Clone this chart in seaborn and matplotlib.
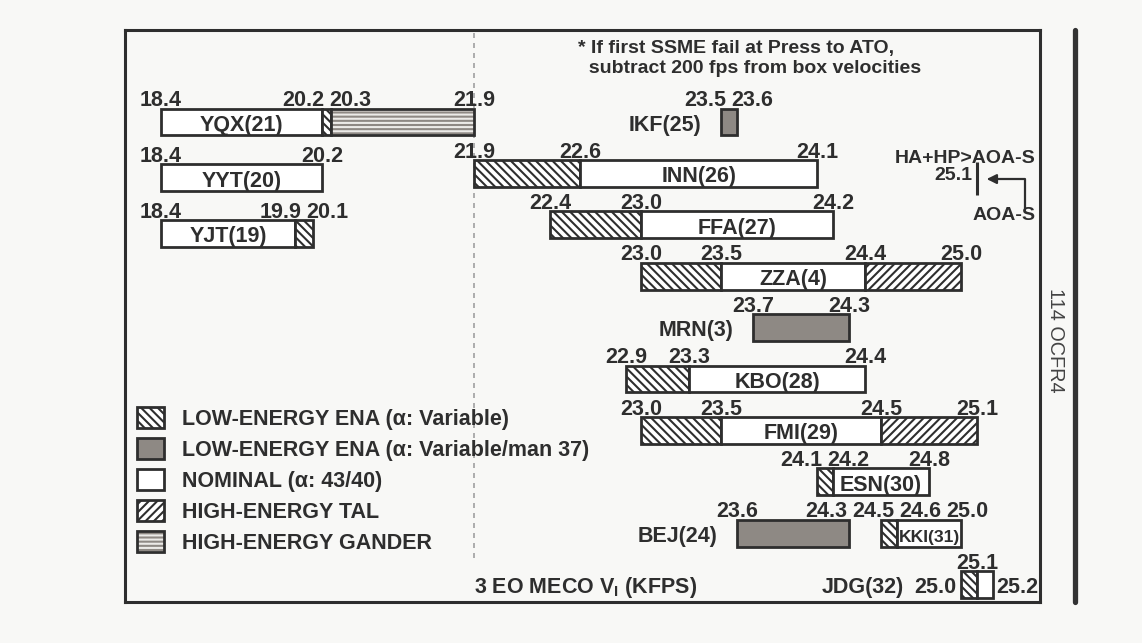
import numpy as np
import matplotlib.pyplot as plt
import seaborn as sns
from matplotlib.patches import Patch

# Values (3 EO MECO inertial velocity, KFPS)
names = ['YQX(21)', 'YYT(20)', 'YJT(19)', 'IKF(25)', 'INN(26)', 'FFA(27)',
         'ZZA(4)', 'MRN(3)', 'KBO(28)', 'FMI(29)', 'ESN(30)', 'BEJ(24)',
         'KKI(31)', 'JDG(32)']
bounds = [
    [18.4, 20.2, 20.3, 21.9],
    [18.4, 20.2],
    [18.4, 19.9, 20.1],
    [23.5, 23.6],
    [21.9, 22.6, 24.1],
    [22.4, 23.0, 24.2],
    [23.0, 23.5, 24.4, 25.0],
    [23.7, 24.3],
    [22.9, 23.3, 24.4],
    [23.0, 23.5, 24.5, 25.1],
    [24.1, 24.2, 24.8],
    [23.6, 24.3],
    [24.5, 24.6, 25.0],
    [25.0, 25.1, 25.2],
]
kinds = [
    ['nom', 'low', 'gander'],
    ['nom'],
    ['nom', 'low'],
    ['man'],
    ['low', 'nom'],
    ['low', 'nom'],
    ['low', 'nom', 'tal'],
    ['man'],
    ['low', 'nom'],
    ['low', 'nom', 'tal'],
    ['low', 'nom'],
    ['man'],
    ['low', 'nom'],
    ['low', 'nom'],
]
slots = [0, 1, 2, 0, 1, 2, 3, 4, 5, 6, 7, 8, 8, 9]

legend_kinds = ['low', 'man', 'nom', 'tal', 'gander']
legend_labels = ['LOW-ENERGY ENA (α: Variable)',
                 'LOW-ENERGY ENA (α: Variable/man 37)',
                 'NOMINAL (α: 43/40)',
                 'HIGH-ENERGY TAL',
                 'HIGH-ENERGY GANDER']

split_value = 21.9   # dashed divider
aoa_value = 25.1     # HA+HP>AOA-S marker
side_label_bars = ['JDG(32)']

# Layout / style
W, H = 1142, 643
BOX = (125, 30, 1040, 602)  # left, top, right, bottom in px
BG = '#f8f8f6'
INK = '#2e2e2e'
GRAY = '#8e8984'
FS = 15.5
ROW0, ROW_PX = 122, 51.4
LEFT_STEP = 1.085
BAR_H = 0.52
MIN_SEP = 47

# the sketch squeezes the low-velocity side: piecewise linear x scale
brk_v = [17.0, 18.4, 21.9, 23.0, 25.2, 26.0]
brk_u = [35.8, 161.0, 474.0, 641.0, 993.0, 1121.0]


def fwd(v):
    return np.interp(v, brk_v, brk_u)


def inv(u):
    return np.interp(u, brk_u, brk_v)


styles = {
    'low': dict(facecolor='white', hatch='\\\\\\\\'),
    'man': dict(facecolor=GRAY, hatch=None),
    'nom': dict(facecolor='white', hatch=None),
    'tal': dict(facecolor='white', hatch='////'),
}

sns.set_theme(style='white')
plt.rcParams['font.family'] = ['Liberation Sans', 'DejaVu Sans']
plt.rcParams['font.weight'] = 'bold'
plt.rcParams['mathtext.fontset'] = 'custom'
plt.rcParams['mathtext.bf'] = 'Liberation Sans:bold'
plt.rcParams['mathtext.rm'] = 'Liberation Sans:bold'
plt.rcParams['hatch.linewidth'] = 1.5
plt.rcParams['text.color'] = INK

fig = plt.figure(figsize=(W / 100, H / 100), dpi=100, facecolor=BG)
ax = fig.add_axes([BOX[0] / W, 1 - BOX[3] / H,
                   (BOX[2] - BOX[0]) / W, (BOX[3] - BOX[1]) / H])
ax.set_facecolor(BG)
ax.set_xscale('function', functions=(fwd, inv))
ax.set_xlim(inv(BOX[0]), inv(BOX[2]))
ax.set_ylim((BOX[3] - ROW0) / ROW_PX, (BOX[1] - ROW0) / ROW_PX)
ax.set_xticks([])
ax.set_yticks([])
for s in ax.spines.values():
    s.set_visible(True)
    s.set_color(INK)
    s.set_linewidth(2.2)


def ypos(i):
    if bounds[i][-1] <= split_value:
        return slots[i] * LEFT_STEP
    return slots[i]


def draw_segment(y, a, b, kind):
    if kind == 'gander':
        ax.barh(y, b - a, left=a, height=BAR_H, facecolor=GRAY,
                edgecolor='#ecebe8', hatch='----', linewidth=0, zorder=2)
        ax.barh(y, b - a, left=a, height=BAR_H, facecolor='none',
                edgecolor=INK, linewidth=2.0, zorder=3)
    else:
        st = styles[kind]
        ax.barh(y, b - a, left=a, height=BAR_H, facecolor=st['facecolor'],
                hatch=st['hatch'], edgecolor=INK, linewidth=2.0, zorder=2)


def spread(us, sep):
    us = list(us)
    for _ in range(200):
        for k in range(len(us) - 1):
            gap = us[k + 1] - us[k]
            if gap < sep:
                d = (sep - gap) / 2
                us[k] -= d
                us[k + 1] += d
    return us


# dashed divider
ax.axvline(split_value, ymin=(BOX[3] - 558) / (BOX[3] - BOX[1]), ymax=1,
           color='#a0a0a0', lw=1.2, ls=(0, (3, 3)), zorder=0)

# bars
for i in range(len(names)):
    b = bounds[i]
    for j, kind in enumerate(kinds[i]):
        draw_segment(ypos(i), b[j], b[j + 1], kind)

fig.canvas.draw()
renderer = fig.canvas.get_renderer()

# velocity labels above the bars, pushed apart where they crowd
row_vals = {}
for i, name in enumerate(names):
    if name in side_label_bars:
        continue
    row_vals.setdefault(round(ypos(i), 3), []).extend(bounds[i])
for y, vals in row_vals.items():
    vals = sorted(vals)
    for v, u in zip(vals, spread(fwd(np.array(vals)), MIN_SEP)):
        ax.annotate(f'{v:.1f}', xy=(inv(u), y - BAR_H / 2), xytext=(0, 1.8),
                    textcoords='offset points', ha='center', va='baseline',
                    fontsize=FS)

# side-labelled bar (JDG)
for i, name in enumerate(names):
    if name not in side_label_bars:
        continue
    y, b = ypos(i), bounds[i]
    t0 = ax.annotate(f'{b[0]:.1f}', xy=(b[0], y), xytext=(-3, -6.3),
                     textcoords='offset points', ha='right', va='baseline',
                     fontsize=FS)
    ax.annotate(f'{b[-1]:.1f}', xy=(b[-1], y), xytext=(2, -6.3),
                textcoords='offset points', ha='left', va='baseline',
                fontsize=FS)
    for v in b[1:-1]:
        ax.annotate(f'{v:.1f}', xy=(v, y - BAR_H / 2), xytext=(0, 1.8),
                    textcoords='offset points', ha='center', va='baseline',
                    fontsize=FS)
    w0 = t0.get_window_extent(renderer).width * 0.72
    ax.annotate(name, xy=(b[0], y), xytext=(-3 - w0 - 8, -6.3),
                textcoords='offset points', ha='right', va='baseline',
                fontsize=FS)

# site names: inside the nominal box, or left of the bar
for i, name in enumerate(names):
    if name in side_label_bars:
        continue
    y, b, k = ypos(i), bounds[i], kinds[i]
    if 'nom' in k:
        j = k.index('nom')
        u0, u1 = fwd(b[j]), fwd(b[j + 1])
        t = ax.annotate(name, xy=(inv((u0 + u1) / 2), y), xytext=(0, -6.3),
                        textcoords='offset points', ha='center',
                        va='baseline', fontsize=FS, zorder=4)
        tw = t.get_window_extent(renderer).width
        if tw > (u1 - u0) - 3:
            t.set_fontsize(FS * ((u1 - u0) - 3) / tw)
    else:
        ax.annotate(name, xy=(b[0], y), xytext=(-14, -6.3),
                    textcoords='offset points', ha='right', va='baseline',
                    fontsize=FS)

# HA+HP>AOA-S marker
ym = 1
ax.plot([aoa_value, aoa_value], [ym - 0.22, ym + 0.42], color=INK, lw=2.2,
        solid_capstyle='butt', zorder=3)
ax.annotate('25.1', xy=(aoa_value, ym), xytext=(-3, -4.8),
            textcoords='offset points', ha='right', va='baseline', fontsize=14)
ax.annotate('HA+HP>AOA-S', xy=(aoa_value, ym), xytext=(42, 7.5),
            textcoords='offset points', ha='right', va='baseline', fontsize=14)
ax.annotate('', xy=(aoa_value, ym + 0.11), xytext=(34.5, -20.5),
            textcoords='offset points',
            arrowprops=dict(arrowstyle='-|>', color=INK, lw=1.6,
                            connectionstyle='angle,angleA=90,angleB=0,rad=0',
                            shrinkA=0, shrinkB=7, mutation_scale=14))
ax.annotate('AOA-S', xy=(aoa_value, ym), xytext=(42, -33.5),
            textcoords='offset points', ha='right', va='baseline', fontsize=14)

# notes
ax.text((578 - BOX[0]) / (BOX[2] - BOX[0]), (BOX[3] - 40) / (BOX[3] - BOX[1]),
        '* If first SSME fail at Press to ATO,\n  subtract 200 fps from box velocities',
        transform=ax.transAxes, ha='left', va='top', fontsize=14,
        linespacing=1.2)
ax.annotate('3 EO MECO V$_\\mathbf{I}$ (KFPS)', xy=(split_value, 9),
            xytext=(0, -6.3), textcoords='offset points', ha='left',
            va='baseline', fontsize=FS)

# legend
handles = []
for k in legend_kinds:
    if k == 'gander':
        handles.append((Patch(facecolor=GRAY, edgecolor='#ecebe8', hatch='----', lw=0),
                        Patch(facecolor='none', edgecolor=INK, lw=2.0)))
    else:
        handles.append(Patch(facecolor=styles[k]['facecolor'],
                             hatch=styles[k]['hatch'], edgecolor=INK, lw=2.0))
ax.legend(handles, legend_labels, loc='upper left',
          bbox_to_anchor=((137 - BOX[0]) / (BOX[2] - BOX[0]),
                          (BOX[3] - 407) / (BOX[3] - BOX[1])),
          frameon=False, borderpad=0, borderaxespad=0, handlelength=1.27,
          handleheight=1.1, handletextpad=0.8, labelspacing=0.39,
          prop=dict(size=FS, weight='bold'), labelcolor=INK)

# outer rule and figure tag on the right
fig.add_artist(plt.Line2D([1075 / W, 1075 / W], [1 - 30 / H, 1 - 602 / H],
                          color='#333333', lw=3.8, transform=fig.transFigure))
fig.text(1055 / W, 1 - 340 / H, '114 OCFR4', rotation=270, ha='center',
         va='center', fontsize=14.3, fontweight='normal', color='#444444')

fig.savefig('out.png', dpi=100, facecolor=BG)
